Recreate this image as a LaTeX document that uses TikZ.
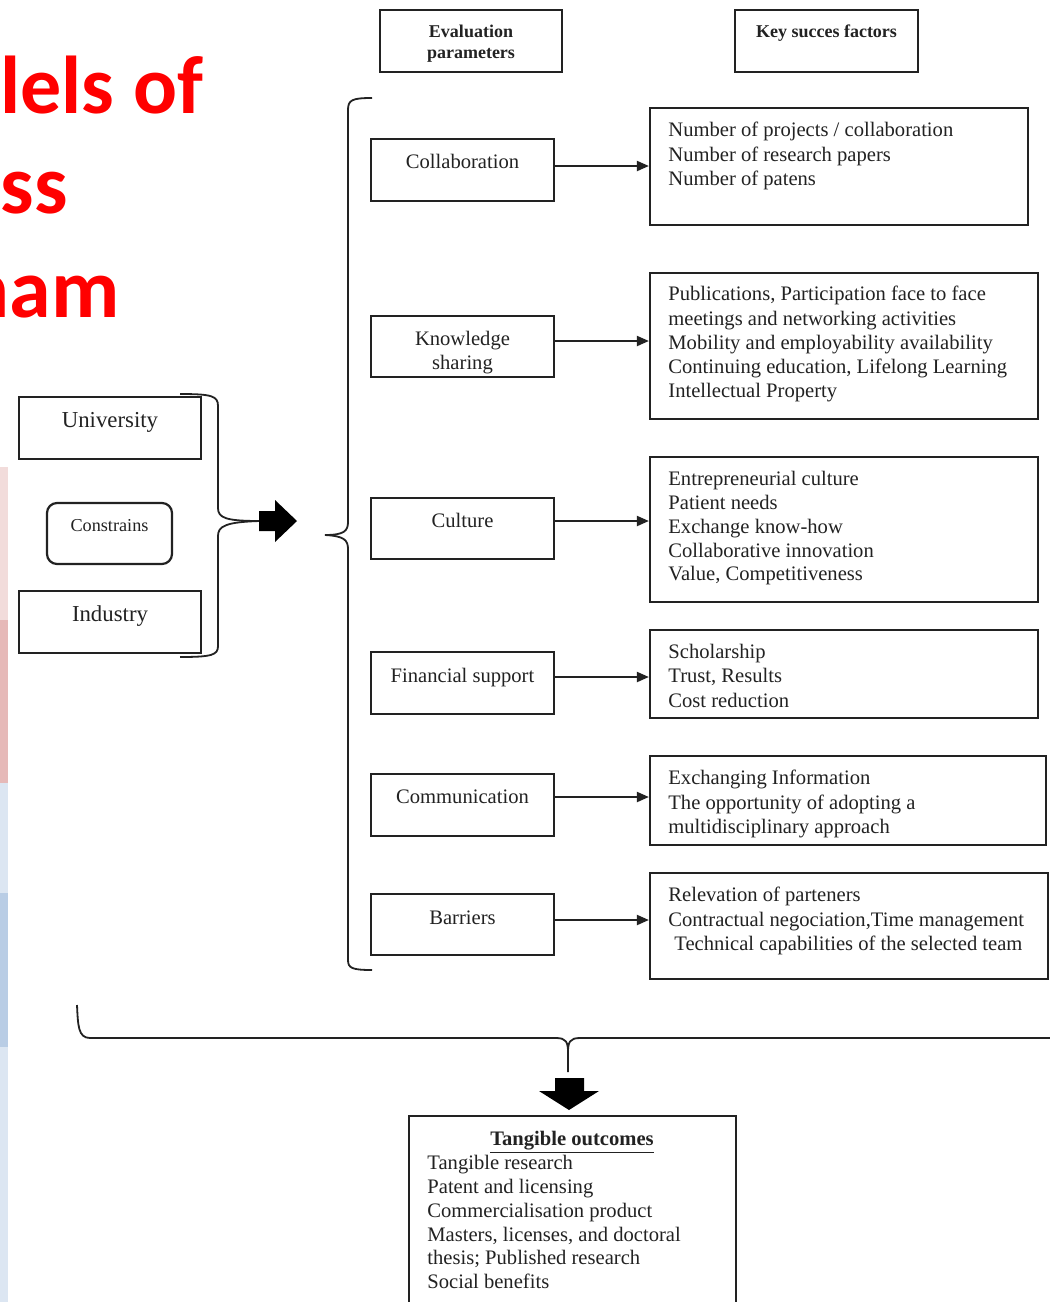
\documentclass[tikz,border=0pt]{standalone}
\usepackage{fontspec}
\setmainfont{Liberation Serif}
\newfontfamily\titlefont{Carlito}
\usetikzlibrary{arrows.meta}
\definecolor{titlered}{HTML}{FF0000}
\definecolor{pinkA}{HTML}{F2DCDB}
\definecolor{pinkB}{HTML}{E6B9B8}
\definecolor{blueA}{HTML}{DCE6F2}
\definecolor{blueB}{HTML}{B9CDE5}
\definecolor{ink}{HTML}{222222}
\begin{document}
\begin{tikzpicture}[x=0.5pt,y=-0.5pt,
  boxframe/.style={draw=ink,line width=1.1pt,inner sep=0pt},
  lbl/.style={text=ink,inner sep=0pt,font=\fontsize{10.3}{12.1}\selectfont},
  listtxt/.style={lbl,align=left,anchor=north west},
  hdr/.style={text=ink,inner sep=0pt,font=\bfseries\fontsize{9}{10.5}\selectfont,align=center},
  bigtxt/.style={text=ink,inner sep=0pt,font=\fontsize{11.4}{13}\selectfont},
  titletxt/.style={text=titlered,inner sep=0pt,font=\titlefont\bfseries\fontsize{42}{50}\selectfont},
  conn/.style={draw=ink,line width=1pt,-{Triangle[length=6pt,width=5pt]}},
  bracepath/.style={draw=ink,line width=0.9pt},
  blockarrow/.style={fill=black}]
\clip (0,0) rectangle (1050,1302);
\fill[white] (0,0) rectangle (1050,1302);

% title fragments
\node[titletxt,anchor=base west,font=\titlefont\bfseries\fontsize{41}{50}\selectfont] (t1) at (0,113) {lels of};
\node[titletxt,anchor=base east] (t2) at (68,213) {ss};
\node[titletxt,anchor=base east] (t3) at (120,317) {nam};

% left colour strip
\fill[pinkA] (0,467) rectangle (8,620);
\fill[pinkB] (0,620) rectangle (8,783);
\fill[blueA] (0,783) rectangle (8,893);
\fill[blueB] (0,893) rectangle (8,1047);
\fill[blueA] (0,1047) rectangle (8,1302);

% headers
\node[boxframe,minimum width=91pt,minimum height=31pt] (ep) at (471,41) {};
\node[hdr] (ept) at (471,44) {Evaluation\\parameters};
\node[boxframe,minimum width=91.5pt,minimum height=31pt] (ks) at (826.5,41) {};
\node[hdr,anchor=base] (kst) at (826.5,37) {Key succes factors};

% left inputs
\node[boxframe,minimum width=91pt,minimum height=31pt] (uni) at (110,428) {};
\node[bigtxt,anchor=base] (unit) at (110,427) {University};
\node[boxframe,rounded corners=5pt,minimum width=62.5pt,minimum height=30.5pt] (con) at (109.5,533.5) {};
\node[text=ink,inner sep=0pt,font=\fontsize{9.1}{11}\selectfont,anchor=base] (cont) at (109.5,531) {Constrains};
\node[boxframe,minimum width=91pt,minimum height=31pt] (ind) at (110,622) {};
\node[bigtxt,anchor=base] (indt) at (110,621) {Industry};

% evaluation parameter boxes
\node[boxframe,minimum width=91.5pt,minimum height=31pt] (c1) at (462.5,170) {};
\node[lbl,anchor=base] (c1t) at (462.5,168) {Collaboration};
\node[boxframe,minimum width=91.5pt,minimum height=30.5pt] (c2) at (462.5,346.5) {};
\node[lbl,align=center,anchor=north,font=\fontsize{10.3}{12}\selectfont] (c2t) at (462.5,331) {Knowledge\\sharing};
\node[boxframe,minimum width=91.5pt,minimum height=30.5pt] (c3) at (462.5,528.5) {};
\node[lbl,anchor=base] (c3t) at (462.5,527) {Culture};
\node[boxframe,minimum width=91.5pt,minimum height=31pt] (c4) at (462.5,683) {};
\node[lbl,anchor=base] (c4t) at (462.5,682) {Financial support};
\node[boxframe,minimum width=91.5pt,minimum height=31pt] (c5) at (462.5,805) {};
\node[lbl,anchor=base] (c5t) at (462.5,803) {Communication};
\node[boxframe,minimum width=91.5pt,minimum height=30.5pt] (c6) at (462.5,924.5) {};
\node[lbl,anchor=base] (c6t) at (462.5,924) {Barriers};

% key success factor boxes
\node[boxframe,minimum width=189pt,minimum height=58.5pt] (k1) at (839,166.5) {};
\node[listtxt] (k1t) at (668,122) {Number of projects / collaboration\\Number of research papers\\Number of patens};
\node[boxframe,minimum width=194pt,minimum height=73pt] (k2) at (844,346) {};
\node[listtxt] (k2t) at (668,286) {Publications, Participation face to face\\meetings and networking activities\\Mobility and employability availability\\Continuing education, Lifelong Learning\\Intellectual Property};
\node[boxframe,minimum width=194pt,minimum height=72.5pt] (k3) at (844,529.5) {};
\node[listtxt,font=\fontsize{10.3}{11.9}\selectfont] (k3t) at (668,471) {Entrepreneurial culture\\Patient needs\\Exchange know-how\\Collaborative innovation\\Value, Competitiveness};
\node[boxframe,minimum width=194pt,minimum height=44pt] (k4) at (844,674) {};
\node[listtxt] (k4t) at (668,644) {Scholarship\\Trust, Results\\Cost reduction};
\node[boxframe,minimum width=198pt,minimum height=44.5pt] (k5) at (848,800.5) {};
\node[listtxt] (k5t) at (668,770) {Exchanging Information\\The opportunity of adopting a\\multidisciplinary approach};
\node[boxframe,minimum width=199pt,minimum height=53pt] (k6) at (849,926) {};
\node[listtxt] (k6t) at (668,887) {Relevation of parteners\\Contractual negociation,Time management\\\hspace{3pt}Technical capabilities of the selected team};

% connectors
\draw[conn] ([yshift=2pt]c1.east) -- ([yshift=2pt]c1.east -| k1.west);
\draw[conn] ([yshift=2.75pt]c2.east) -- ([yshift=2.75pt]c2.east -| k2.west);
\draw[conn] ([yshift=3.75pt]c3.east) -- ([yshift=3.75pt]c3.east -| k3.west);
\draw[conn] ([yshift=3pt]c4.east) -- ([yshift=3pt]c4.east -| k4.west);
\draw[conn] ([yshift=4pt]c5.east) -- ([yshift=4pt]c5.east -| k5.west);
\draw[conn] ([yshift=2.25pt]c6.east) -- ([yshift=2.25pt]c6.east -| k6.west);

% brace around University / Industry and block arrow
\draw[bracepath] (180,394) .. controls (212,394) and (218,396) .. (218,406) -- (218,508) .. controls (218,518) and (226,521) .. (260,521);
\draw[bracepath] (260,521) .. controls (226,522) and (218,526) .. (218,536) -- (218,646) .. controls (218,655) and (212,657) .. (180,657);
\fill[blockarrow] (259,511) -- (275,511) -- (275,500) -- (297,521) -- (275,542) -- (275,531) -- (259,531) -- cycle;

% big brace of evaluation parameters
\draw[bracepath] (372,98) .. controls (352,98) and (348,100) .. (348,110) -- (348,522) .. controls (348,531) and (344,535) .. (325,535);
\draw[bracepath] (325,535) .. controls (344,536) and (348,540) .. (348,549) -- (348,960) .. controls (348,968) and (352,970) .. (372,970);

% bottom brace and down arrow
\draw[bracepath] (77,1005) .. controls (78,1025) and (78,1038) .. (90,1038) -- (556,1038) .. controls (566,1038) and (568,1042) .. (568,1052) -- (568,1072);
\draw[bracepath] (568,1052) .. controls (568,1042) and (570,1038) .. (580,1038) -- (1060,1038);
\fill[blockarrow] (555,1078) -- (584,1078) -- (584,1091) -- (599,1091) -- (569,1110) -- (539,1091) -- (555,1091) -- cycle;

% tangible outcomes
\node[boxframe,minimum width=163.5pt,minimum height=102pt] (to) at (572.5,1218) {};
\node[lbl,anchor=base,font=\bfseries\fontsize{10.3}{12}\selectfont] (tot) at (572,1145) {\underline{Tangible outcomes}};
\node[listtxt,font=\fontsize{10.3}{11.9}\selectfont] (tol) at (427,1155) {Tangible research\\Patent and licensing\\Commercialisation product\\Masters, licenses, and doctoral\\thesis; Published research\\Social benefits};
\end{tikzpicture}
\end{document}
